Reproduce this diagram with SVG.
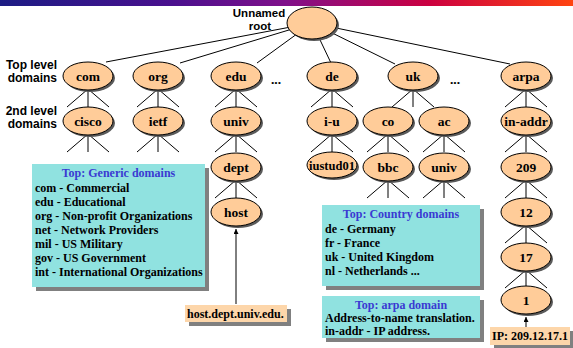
<svg xmlns="http://www.w3.org/2000/svg" width="573" height="348" viewBox="0 0 573 348">
<defs>
<linearGradient id="bar" x1="0" y1="0" x2="1" y2="0">
<stop offset="0" stop-color="#1c1c84"/>
<stop offset="0.3" stop-color="#4a108e"/>
<stop offset="0.5" stop-color="#80108a"/>
<stop offset="0.75" stop-color="#cc0040"/>
<stop offset="1" stop-color="#ff4410"/>
</linearGradient>
<marker id="ah" viewBox="0 0 6 6" refX="6" refY="3" markerWidth="5" markerHeight="5" orient="auto">
<path d="M0,0 L6,3 L0,6 z" fill="#000"/>
</marker>
</defs>
<style>
.lbl{font-family:"Liberation Sans",Arial,sans-serif;font-weight:bold;font-size:12px;fill:#000}
.nt{font-family:"Liberation Serif","Times New Roman",serif;font-weight:bold;font-size:13.5px;fill:#000;text-anchor:middle}
.sh{fill:#5a5a5a}
.nd{fill:#ffcc99;stroke:#000;stroke-width:1}
.ln{stroke:#000;stroke-width:1;fill:none}
.bx{fill:#90e2e0}
.bsh{fill:#808080}
.bt{font-family:"Liberation Serif","Times New Roman",serif;font-weight:bold;font-size:12px;fill:#000}
.tt{font-family:"Liberation Serif","Times New Roman",serif;font-weight:bold;font-size:12px;fill:#3a3ad2;text-anchor:middle}
.pc{fill:#fdd6aa}
</style>
<rect x="0" y="0" width="573" height="6" fill="url(#bar)"/>

<g id="labels">
<text class="lbl" x="259" y="16.5" text-anchor="middle" style="font-size:11.5px">Unnamed</text>
<text class="lbl" x="260" y="29.5" text-anchor="middle" style="font-size:11.5px">root</text>
<text class="lbl" x="57" y="69" text-anchor="end">Top level</text>
<text class="lbl" x="57" y="82" text-anchor="end">domains</text>
<text class="lbl" x="57" y="115" text-anchor="end">2nd level</text>
<text class="lbl" x="57" y="128" text-anchor="end">domains</text>
<text class="nt" x="276" y="84">...</text>
<text class="nt" x="455" y="84">...</text>
</g>

<g id="connectors">
<line class="ln" x1="312" y1="23" x2="106" y2="62"/>
<line class="ln" x1="312" y1="23" x2="180" y2="63"/>
<line class="ln" x1="312" y1="23" x2="257" y2="63"/>
<line class="ln" x1="312" y1="23" x2="331" y2="63"/>
<line class="ln" x1="312" y1="23" x2="395" y2="64"/>
<line class="ln" x1="312" y1="23" x2="510" y2="64"/>
<path class="ln" d="M88,89 L67,107 M88,89 L88,107 M88,89 L109,107"/>
<path class="ln" d="M158,89 L137,107 M158,89 L158,107 M158,89 L179,107"/>
<path class="ln" d="M236,89 L215,107 M236,89 L236,107 M236,89 L257,107"/>
<path class="ln" d="M332,89 L311,107 M332,89 L332,107 M332,89 L353,107"/>
<path class="ln" d="M413,89 L392,107 M413,89 L413,107 M413,89 L434,107"/>
<path class="ln" d="M526,89 L505,107 M526,89 L526,107 M526,89 L547,107"/>
<path class="ln" d="M88,134 L67,152 M88,134 L88,152 M88,134 L109,152"/>
<path class="ln" d="M158,134 L137,152 M158,134 L158,152 M158,134 L179,152"/>
<path class="ln" d="M236,134 L215,152 M236,134 L236,152 M236,134 L257,152"/>
<path class="ln" d="M332,134 L311,152 M332,134 L332,152 M332,134 L353,152"/>
<path class="ln" d="M388,134 L367,152 M388,134 L388,152 M388,134 L409,152"/>
<path class="ln" d="M444,134 L423,152 M444,134 L444,152 M444,134 L465,152"/>
<path class="ln" d="M526,134 L505,152 M526,134 L526,152 M526,134 L547,152"/>
<path class="ln" d="M236,180 L215,198 M236,180 L236,198 M236,180 L257,198"/>
<path class="ln" d="M388,180 L367,198 M388,180 L388,198 M388,180 L409,198"/>
<path class="ln" d="M444,180 L423,198 M444,180 L444,198 M444,180 L465,198"/>
<path class="ln" d="M526,180 L505,198 M526,180 L526,198 M526,180 L547,198"/>
<path class="ln" d="M526,225 L505,243 M526,225 L526,243 M526,225 L547,243"/>
<path class="ln" d="M526,270 L505,288 M526,270 L526,288 M526,270 L547,288"/>
<line class="ln" x1="236" y1="304" x2="236" y2="229" marker-end="url(#ah)"/>
<line class="ln" x1="526" y1="327" x2="526" y2="317" marker-end="url(#ah)"/>
</g>

<g id="root"><ellipse class="sh" cx="314" cy="25" rx="25" ry="16"/><ellipse class="nd" cx="312" cy="23" rx="25" ry="16"/></g>
<g id="n-com"><ellipse class="sh" cx="90" cy="78" rx="25" ry="14"/><ellipse class="nd" cx="88" cy="76" rx="25" ry="14"/><text class="nt" x="88" y="80.5">com</text></g>
<g id="n-org"><ellipse class="sh" cx="160" cy="78" rx="25" ry="14"/><ellipse class="nd" cx="158" cy="76" rx="25" ry="14"/><text class="nt" x="158" y="80.5">org</text></g>
<g id="n-edu"><ellipse class="sh" cx="238" cy="78" rx="25" ry="14"/><ellipse class="nd" cx="236" cy="76" rx="25" ry="14"/><text class="nt" x="236" y="80.5">edu</text></g>
<g id="n-de"><ellipse class="sh" cx="334" cy="78" rx="25" ry="14"/><ellipse class="nd" cx="332" cy="76" rx="25" ry="14"/><text class="nt" x="332" y="80.5">de</text></g>
<g id="n-uk"><ellipse class="sh" cx="415" cy="78" rx="25" ry="14"/><ellipse class="nd" cx="413" cy="76" rx="25" ry="14"/><text class="nt" x="413" y="80.5">uk</text></g>
<g id="n-arpa"><ellipse class="sh" cx="528" cy="78" rx="25" ry="14"/><ellipse class="nd" cx="526" cy="76" rx="25" ry="14"/><text class="nt" x="526" y="80.5">arpa</text></g>

<g id="n-cisco"><ellipse class="sh" cx="90" cy="123" rx="25" ry="14"/><ellipse class="nd" cx="88" cy="121" rx="25" ry="14"/><text class="nt" x="88" y="125.5">cisco</text></g>
<g id="n-ietf"><ellipse class="sh" cx="160" cy="123" rx="25" ry="14"/><ellipse class="nd" cx="158" cy="121" rx="25" ry="14"/><text class="nt" x="158" y="125.5">ietf</text></g>
<g id="n-univ"><ellipse class="sh" cx="238" cy="123" rx="25" ry="14"/><ellipse class="nd" cx="236" cy="121" rx="25" ry="14"/><text class="nt" x="236" y="125.5">univ</text></g>
<g id="n-iu"><ellipse class="sh" cx="334" cy="123" rx="25" ry="14"/><ellipse class="nd" cx="332" cy="121" rx="25" ry="14"/><text class="nt" x="332" y="125.5">i-u</text></g>
<g id="n-co"><ellipse class="sh" cx="390" cy="123" rx="25" ry="14"/><ellipse class="nd" cx="388" cy="121" rx="25" ry="14"/><text class="nt" x="388" y="125.5">co</text></g>
<g id="n-ac"><ellipse class="sh" cx="446" cy="123" rx="25" ry="14"/><ellipse class="nd" cx="444" cy="121" rx="25" ry="14"/><text class="nt" x="444" y="125.5">ac</text></g>
<g id="n-inaddr"><ellipse class="sh" cx="528" cy="123" rx="25" ry="14"/><ellipse class="nd" cx="526" cy="121" rx="25" ry="14"/><text class="nt" x="526" y="125.5">in-addr</text></g>

<g id="n-dept"><ellipse class="sh" cx="238" cy="169" rx="25" ry="14"/><ellipse class="nd" cx="236" cy="167" rx="25" ry="14"/><text class="nt" x="236" y="171.5">dept</text></g>
<g id="n-iustud01"><ellipse class="sh" cx="334" cy="167" rx="25" ry="13"/><ellipse class="nd" cx="332" cy="165" rx="25" ry="13"/><text class="nt" x="332" y="169.5" style="font-size:12.5px">iustud01</text></g>
<g id="n-bbc"><ellipse class="sh" cx="390" cy="169" rx="25" ry="14"/><ellipse class="nd" cx="388" cy="167" rx="25" ry="14"/><text class="nt" x="388" y="171.5">bbc</text></g>
<g id="n-univ2"><ellipse class="sh" cx="446" cy="169" rx="25" ry="14"/><ellipse class="nd" cx="444" cy="167" rx="25" ry="14"/><text class="nt" x="444" y="171.5">univ</text></g>
<g id="n-209"><ellipse class="sh" cx="528" cy="169" rx="25" ry="14"/><ellipse class="nd" cx="526" cy="167" rx="25" ry="14"/><text class="nt" x="526" y="171.5">209</text></g>

<g id="n-host"><ellipse class="sh" cx="238" cy="214" rx="25" ry="14"/><ellipse class="nd" cx="236" cy="212" rx="25" ry="14"/><text class="nt" x="236" y="216.5">host</text></g>
<g id="n-12"><ellipse class="sh" cx="528" cy="214" rx="25" ry="14"/><ellipse class="nd" cx="526" cy="212" rx="25" ry="14"/><text class="nt" x="526" y="216.5">12</text></g>
<g id="n-17"><ellipse class="sh" cx="528" cy="259" rx="25" ry="14"/><ellipse class="nd" cx="526" cy="257" rx="25" ry="14"/><text class="nt" x="526" y="261.5">17</text></g>
<g id="n-1"><ellipse class="sh" cx="528" cy="302" rx="25" ry="14"/><ellipse class="nd" cx="526" cy="300" rx="25" ry="14"/><text class="nt" x="526" y="304.5">1</text></g>

<g id="box-generic">
<rect class="bsh" x="36" y="168" width="173" height="123"/>
<rect class="bx" x="32" y="164" width="173" height="123"/>
<text class="tt" x="118.5" y="177">Top: Generic domains</text>
<text class="bt" x="35" y="192">com - Commercial</text>
<text class="bt" x="35" y="206">edu - Educational</text>
<text class="bt" x="35" y="220">org - Non-profit Organizations</text>
<text class="bt" x="35" y="234">net - Network Providers</text>
<text class="bt" x="35" y="248">mil - US Military</text>
<text class="bt" x="35" y="262">gov - US Government</text>
<text class="bt" x="35" y="276">int - International Organizations</text>
</g>

<g id="box-country">
<rect class="bsh" x="326" y="209" width="158" height="81"/>
<rect class="bx" x="322" y="205" width="158" height="81"/>
<text class="tt" x="401" y="218">Top: Country domains</text>
<text class="bt" x="325" y="233">de - Germany</text>
<text class="bt" x="325" y="247">fr - France</text>
<text class="bt" x="325" y="261">uk - United Kingdom</text>
<text class="bt" x="325" y="275">nl - Netherlands ...</text>
</g>

<g id="box-arpa">
<rect class="bsh" x="326" y="300" width="158" height="42"/>
<rect class="bx" x="322" y="296" width="158" height="42"/>
<text class="tt" x="401" y="309">Top: arpa domain</text>
<text class="bt" x="325" y="322">Address-to-name translation.</text>
<text class="bt" x="325" y="335">in-addr - IP address.</text>
</g>

<g id="box-host">
<rect class="bsh" x="189" y="309" width="102" height="17"/>
<rect class="pc" x="185" y="305" width="102" height="17"/>
<text class="bt" x="187" y="317.5">host.dept.univ.edu.</text>
</g>

<g id="box-ip">
<rect class="bsh" x="494" y="331" width="80" height="18"/>
<rect class="pc" x="490" y="327" width="80" height="18"/>
<text class="bt" x="492" y="340">IP:  209.12.17.1</text>
</g>
</svg>
